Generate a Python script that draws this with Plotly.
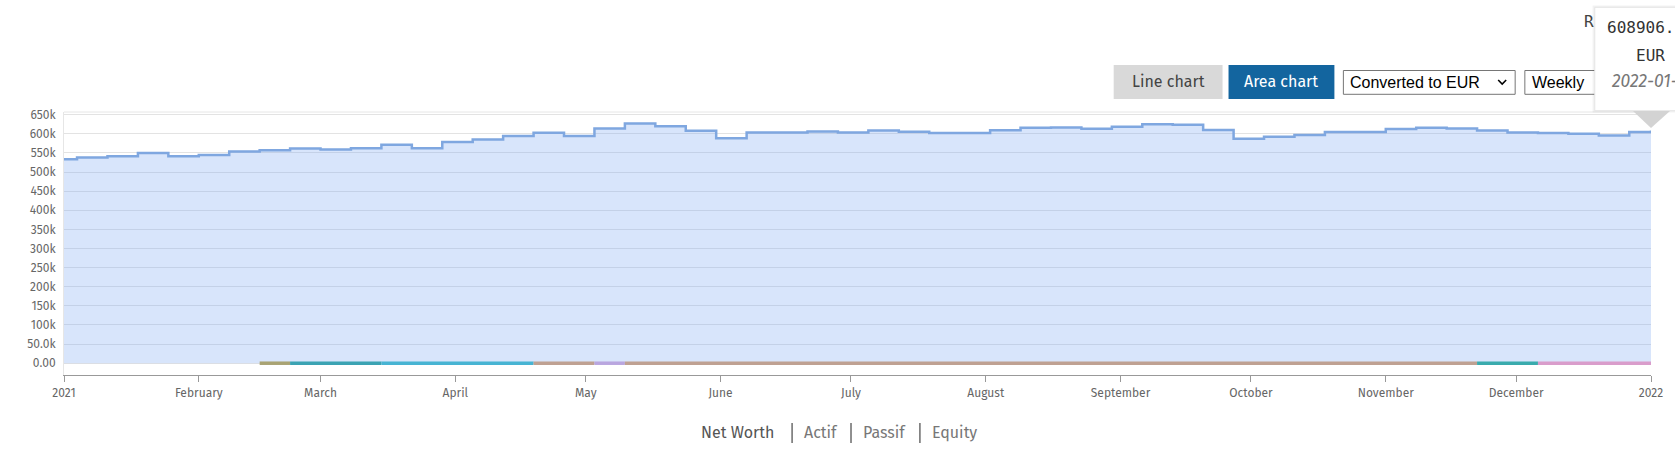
import plotly.graph_objects as go

# ---------------- data ----------------
dates = [
    "2021-01-01", "2021-01-04", "2021-01-11", "2021-01-18", "2021-01-25",
    "2021-02-01", "2021-02-08", "2021-02-15", "2021-02-22",
    "2021-03-01", "2021-03-08", "2021-03-15", "2021-03-22", "2021-03-29",
    "2021-04-05", "2021-04-12", "2021-04-19", "2021-04-26",
    "2021-05-03", "2021-05-10", "2021-05-17", "2021-05-24", "2021-05-31",
    "2021-06-07", "2021-06-14", "2021-06-21", "2021-06-28",
    "2021-07-05", "2021-07-12", "2021-07-19", "2021-07-26",
    "2021-08-02", "2021-08-09", "2021-08-16", "2021-08-23", "2021-08-30",
    "2021-09-06", "2021-09-13", "2021-09-20", "2021-09-27",
    "2021-10-04", "2021-10-11", "2021-10-18", "2021-10-25",
    "2021-11-01", "2021-11-08", "2021-11-15", "2021-11-22", "2021-11-29",
    "2021-12-06", "2021-12-13", "2021-12-20", "2021-12-27", "2022-01-01",
]
net_worth = [
    533500, 537800, 541300, 550000, 541300,
    544800, 553600, 557000, 561500,
    558900, 562400, 571500, 562400, 578500,
    585000, 594000, 603000, 594500,
    614000, 627000, 620000, 608000, 588600,
    603500, 603500, 606000, 603500,
    608800, 605300, 601800, 601800,
    609000, 615600, 616500, 613500, 618200,
    625000, 623500, 610000, 587000,
    592500, 597000, 604400, 604400,
    612300, 615800, 614000, 608800, 603500,
    601800, 600000, 595600, 605000, 608906,
]

# small series lying at zero along the bottom
strip_start = ["2021-02-15", "2021-02-22", "2021-03-15", "2021-04-19",
               "2021-05-03", "2021-05-10", "2021-11-22", "2021-12-06"]
strip_end = ["2021-02-22", "2021-03-15", "2021-04-19", "2021-05-03",
             "2021-05-10", "2021-11-22", "2021-12-06", "2022-01-01"]
strip_value = [0, 0, 0, 0, 0, 0, 0, 0]
strip_colors = ["#a9a373", "#3ba3b3", "#47b4d3", "#bfa192",
                "#b9a6df", "#bfa192", "#3aabad", "#d99dcb"]

month_ticks = ["2021-01-01", "2021-02-01", "2021-03-01", "2021-04-01",
               "2021-05-01", "2021-06-01", "2021-07-01", "2021-08-01",
               "2021-09-01", "2021-10-01", "2021-11-01", "2021-12-01",
               "2022-01-01"]
month_labels = ["2021", "February", "March", "April", "May", "June", "July",
                "August", "September", "October", "November", "December",
                "2022"]

tooltip_value = "608906."
tooltip_currency = "EUR"
tooltip_date = "2022-01-01"

legend_items = ["Net Worth", "Actif", "Passif", "Equity"]

# ---------------- layout geometry ----------------
W, H = 1675, 456
L, R, T, B = 64, 1653, 112, 375
FONT = "Fira Sans, Open Sans, sans-serif"


def px_x(px):
    return (px - L) / (R - L)


def px_y(py):
    return (B - py) / (B - T)


fig = go.Figure()

fig.add_trace(go.Scatter(
    x=dates, y=net_worth, mode="lines", line_shape="hv",
    line=dict(color="#7fa7e0", width=2.5),
    fill="tozeroy", fillcolor="rgba(125,168,242,0.30)",
    hoverinfo="skip",
))

for s, e, v, c in zip(strip_start, strip_end, strip_value, strip_colors):
    fig.add_trace(go.Scatter(
        x=[s, e], y=[v, v], mode="lines",
        line=dict(color=c, width=3.5), hoverinfo="skip",
    ))

shapes = []
annotations = []

# top border line of plot
shapes.append(dict(type="line", xref="paper", yref="paper", x0=0, x1=1,
                   y0=1, y1=1, line=dict(color="#e6e6e6", width=1)))


def rect(x0, x1, y0, y1, fill, line_color=None, lw=0, layer="above"):
    shapes.append(dict(type="rect", xref="paper", yref="paper",
                       x0=px_x(x0), x1=px_x(x1), y0=px_y(y1), y1=px_y(y0),
                       fillcolor=fill, layer=layer,
                       line=dict(color=line_color or fill, width=lw)))


def text(s, x, y, size=16, color="#444", family=FONT, xanchor="center",
         italic=False):
    if italic:
        s = "<i>" + s + "</i>"
    annotations.append(dict(text=s, xref="paper", yref="paper",
                            x=px_x(x), y=px_y(y), xanchor=xanchor,
                            yanchor="middle", showarrow=False,
                            font=dict(size=size, color=color, family=family)))


# buttons
rect(1115, 1224, 65, 99, "#d9d9d9")
text("Line chart", 1169.5, 82, size=16, color="#444")
rect(1230, 1336, 65, 99, "#13659f")
text("Area chart", 1283, 82, size=16, color="#ffffff")

# selects
rect(1345, 1517, 70.5, 94.3, "#ffffff", "#767676", 1)
text("Converted to EUR", 1350, 82.5, size=16, color="#000",
     family="Arial, Liberation Sans, sans-serif", xanchor="left")
shapes.append(dict(type="path", xref="paper", yref="paper",
                   path="M {},{} L {},{} L {},{}".format(
                       px_x(1500), px_y(80), px_x(1504), px_y(84),
                       px_x(1508), px_y(80)),
                   line=dict(color="#000", width=1.6)))
rect(1526.7, 1610, 70.5, 94.3, "#ffffff", "#767676", 1)
text("Weekly", 1532, 82.5, size=16, color="#000",
     family="Arial, Liberation Sans, sans-serif", xanchor="left")

# text partly hidden behind tooltip
text("R", 1584, 21, size=16, color="#444",
     family="DejaVu Sans Mono, monospace", xanchor="left")

# tooltip
rect(1594.5, 1690, 5.5, 112.5, "rgba(0,0,0,0.05)")
rect(1596.7, 1690, 7.3, 110.7, "#ffffff", "#e4e4e4", 1)
shapes.append(dict(type="path", xref="paper", yref="paper", layer="above",
                   path="M {},{} L {},{} L {},{} Z".format(
                       px_x(1635), px_y(111), px_x(1672), px_y(111),
                       px_x(1653), px_y(128)),
                   fillcolor="#d3d3d3", line=dict(color="#d3d3d3", width=0)))
text(tooltip_value, 1606.5, 28, size=16, color="#333",
     family="DejaVu Sans Mono, monospace", xanchor="left")
text(tooltip_currency, 1652, 55, size=16, color="#333",
     family="DejaVu Sans Mono, monospace")
text(tooltip_date, 1611.5, 82, size=17.5, color="#777", italic=True,
     xanchor="left")

# bottom chart selector
legend_x = [700, 803, 862, 931]
legend_col = ["#555", "#777", "#777", "#777"]
for name, lx, col in zip(legend_items, legend_x, legend_col):
    text(name, lx, 432, size=16, color=col, xanchor="left")
for sx in [793, 852, 921]:
    shapes.append(dict(type="line", xref="paper", yref="paper",
                       x0=px_x(sx), x1=px_x(sx), y0=px_y(423), y1=px_y(443),
                       line=dict(color="#555", width=1.3)))

fig.update_layout(
    width=W, height=H,
    margin=dict(l=L, r=W - R, t=T, b=H - B, pad=0),
    paper_bgcolor="white", plot_bgcolor="white",
    showlegend=False,
    font=dict(family=FONT, color="#666", size=12),
    shapes=shapes, annotations=annotations,
    xaxis=dict(
        type="date", range=["2021-01-01", "2022-01-01"],
        tickvals=month_ticks, ticktext=month_labels,
        ticks="outside", ticklen=6, tickcolor="#999", tickwidth=1,
        showline=True, linecolor="#999", linewidth=1.2,
        showgrid=False, zeroline=False,
        tickfont=dict(size=12, color="#666", family=FONT),
    ),
    yaxis=dict(
        range=[-30800, 657000], tick0=0, dtick=50000, tickformat=".3s",
        ticks="outside", ticklen=5, tickcolor="rgba(0,0,0,0)",
        showline=True, linecolor="#e6e6e6", linewidth=1,
        showgrid=True, gridcolor="#e3e3e3", gridwidth=1,
        zeroline=False,
        tickfont=dict(size=12, color="#666", family=FONT),
    ),
)

fig.write_html(
    "out.html",
    config={"displayModeBar": False, "staticPlot": True},
    post_script="document.body.style.margin='0';"
                "document.body.style.overflow='hidden';",
)
